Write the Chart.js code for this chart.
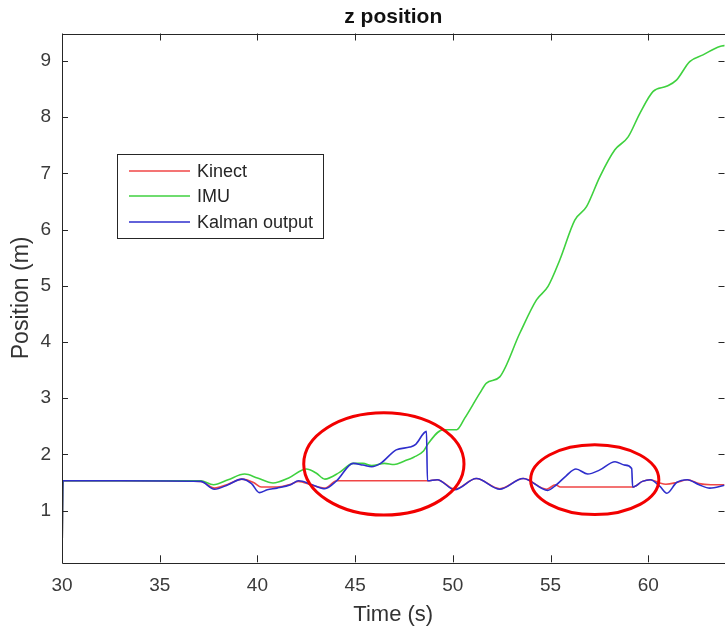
<!DOCTYPE html>
<html>
<head>
<meta charset="utf-8">
<title>z position</title>
<script src="https://cdn.jsdelivr.net/npm/chart.js@4.4.1/dist/chart.umd.min.js"></script>
<style>
  html, body { margin: 0; padding: 0; background: #fff; overflow: hidden; }
  canvas { display: block; }
</style>
</head>
<body>
<canvas id="myChart" width="725" height="632"></canvas>
<script>
// values (time in s, position in m)
var kinectT = [30, 30.05, 33, 37.1, 37.8, 38.5, 39.2, 39.8, 40.2, 41.0, 41.7, 42.1, 42.8, 43.45, 44.05, 48.7, 49.2, 50.1, 51.2, 52.4, 53.6, 54.8, 55.25, 55.5, 59.2, 59.7, 60.1, 60.6, 60.9, 61.45, 62.0, 62.6, 63.2, 63.9];
var kinectZ = [0.08, 1.53, 1.53, 1.52, 1.40, 1.47, 1.56, 1.50, 1.42, 1.42, 1.47, 1.52, 1.45, 1.40, 1.53, 1.53, 1.55, 1.38, 1.57, 1.39, 1.57, 1.38, 1.46, 1.42, 1.42, 1.52, 1.55, 1.49, 1.47, 1.50, 1.55, 1.48, 1.46, 1.46];

var imuT = [30, 30.05, 33, 37.1, 37.75, 38.5, 39.35, 40.0, 40.8, 41.6, 42.5, 43.0, 43.45, 44.2, 44.9, 45.4, 45.85, 46.5, 47.0, 47.5, 48.0, 48.5, 48.75, 49.5, 50.2, 50.6, 51.38, 51.72, 52.4, 53.43, 54.28, 54.87, 55.47, 56.24, 56.84, 57.52, 58.29, 58.97, 59.57, 60.25, 60.93, 61.44, 62.12, 62.8, 63.66, 64];
var imuZ = [0.08, 1.53, 1.53, 1.53, 1.46, 1.55, 1.65, 1.58, 1.49, 1.58, 1.74, 1.67, 1.56, 1.68, 1.84, 1.84, 1.80, 1.84, 1.82, 1.88, 1.95, 2.06, 2.20, 2.44, 2.44, 2.64, 3.09, 3.27, 3.38, 4.16, 4.75, 4.99, 5.46, 6.17, 6.41, 6.94, 7.42, 7.65, 8.07, 8.46, 8.55, 8.66, 8.99, 9.11, 9.26, 9.28];

var kalmanT = [30, 30.05, 33, 37.1, 37.8, 38.5, 39.2, 39.7, 40.1, 40.5, 41.0, 41.7, 42.1, 42.8, 43.45, 44.05, 44.9, 45.4, 45.85, 46.3, 47.1, 47.8, 48.1, 48.65, 48.7, 49.2, 50.1, 51.2, 52.4, 53.6, 54.85, 55.3, 55.8, 56.3, 56.9, 57.5, 58.3, 58.8, 59.15, 59.2, 59.7, 60.1, 60.6, 60.95, 61.45, 62.0, 62.6, 63.15, 63.9];
var kalmanZ = [0.08, 1.53, 1.53, 1.52, 1.38, 1.46, 1.56, 1.48, 1.32, 1.37, 1.40, 1.46, 1.53, 1.46, 1.39, 1.53, 1.84, 1.81, 1.78, 1.84, 2.08, 2.13, 2.18, 2.41, 1.53, 1.55, 1.37, 1.57, 1.38, 1.57, 1.36, 1.46, 1.62, 1.74, 1.65, 1.72, 1.87, 1.81, 1.75, 1.42, 1.52, 1.55, 1.43, 1.31, 1.50, 1.55, 1.46, 1.40, 1.45];

var xTicks = [30, 35, 40, 45, 50, 55, 60];
var yTicks = [1, 2, 3, 4, 5, 6, 7, 8, 9];
var xRange = [30, 63.9];
var yRange = [0.08, 9.49];

var seriesNames = ['Kinect', 'IMU', 'Kalman output'];
var seriesColors = ['#f04646', '#3fd13f', '#2e2ecc'];

// the two red circles: centre time, centre position, half width (s), half height (m)
var circles = [
    [46.47, 1.83, 4.1, 0.91],
    [57.26, 1.55, 3.28, 0.62]
];

function toPoints(ts, zs) {
    var pts = [];
    for (let i = 0; i < ts.length; i++) {
        pts.push({x: ts[i], y: zs[i]});
    }
    return pts;
}

function makeDataset(i, ts, zs, order) {
    return {
        label: seriesNames[i],
        data: toPoints(ts, zs),
        borderColor: seriesColors[i],
        backgroundColor: seriesColors[i],
        borderWidth: 1.6,
        pointRadius: 0,
        cubicInterpolationMode: 'monotone',
        fill: false,
        order: order
    };
}

const framePlugin = {
    id: 'frame',
    afterDatasetsDraw(chart) {
        const ctx = chart.ctx;
        const a = chart.chartArea;
        const xs = chart.scales.x;
        const ys = chart.scales.y;
        ctx.save();

        // red circles
        ctx.strokeStyle = '#f20000';
        ctx.lineWidth = 3;
        circles.forEach(c => {
            const cx = xs.getPixelForValue(c[0]);
            const cy = ys.getPixelForValue(c[1]);
            const rx = Math.abs(xs.getPixelForValue(c[0] + c[2]) - cx);
            const ry = Math.abs(ys.getPixelForValue(c[1] + c[3]) - cy);
            ctx.beginPath();
            ctx.ellipse(cx, cy, rx, ry, 0, 0, Math.PI * 2);
            ctx.stroke();
        });

        // box and inward ticks
        ctx.strokeStyle = '#262626';
        ctx.lineWidth = 1;
        ctx.beginPath();
        ctx.rect(Math.round(a.left) + 0.5, Math.round(a.top) + 0.5, Math.round(a.right - a.left), Math.round(a.bottom - a.top));
        xTicks.forEach(t => {
            const px = Math.round(xs.getPixelForValue(t)) + 0.5;
            ctx.moveTo(px, a.bottom); ctx.lineTo(px, a.bottom - 7);
            ctx.moveTo(px, a.top); ctx.lineTo(px, a.top + 7);
        });
        yTicks.forEach(t => {
            const py = Math.round(ys.getPixelForValue(t)) + 0.5;
            ctx.moveTo(a.left, py); ctx.lineTo(a.left + 6, py);
            ctx.moveTo(a.right, py); ctx.lineTo(a.right - 6, py);
        });
        ctx.stroke();

        // legend box
        const lx = 117, ly = 154, lw = 206, lh = 84;
        ctx.fillStyle = '#fff';
        ctx.fillRect(lx, ly, lw, lh);
        ctx.strokeStyle = '#262626';
        ctx.strokeRect(lx + 0.5, ly + 0.5, lw, lh);
        ctx.font = '18px "Liberation Sans", Arial, sans-serif';
        ctx.textBaseline = 'middle';
        ctx.textAlign = 'left';
        const rows = [171, 196, 222];
        for (let i = 0; i < seriesNames.length; i++) {
            ctx.strokeStyle = seriesColors[i];
            ctx.lineWidth = 1.6;
            ctx.beginPath();
            ctx.moveTo(129, rows[i]);
            ctx.lineTo(190, rows[i]);
            ctx.stroke();
            ctx.fillStyle = '#262626';
            ctx.fillText(seriesNames[i], 197, rows[i] + 1);
        }

        // title
        ctx.font = 'bold 21px "Liberation Sans", Arial, sans-serif';
        ctx.fillStyle = '#111';
        ctx.textAlign = 'center';
        ctx.fillText('z position', (a.left + a.right) / 2, 17);
        ctx.restore();
    }
};

const ctx = document.getElementById('myChart').getContext('2d');
const myChart = new Chart(ctx, {
    type: 'line',
    data: {
        datasets: [
            makeDataset(0, kinectT, kinectZ, 3),
            makeDataset(1, imuT, imuZ, 2),
            makeDataset(2, kalmanT, kalmanZ, 1)
        ]
    },
    options: {
        responsive: false,
        animation: false,
        layout: { padding: { top: 33.5, right: 0.5, left: 0, bottom: 0 } },
        plugins: {
            legend: { display: false },
            tooltip: { enabled: false }
        },
        scales: {
            x: {
                type: 'linear',
                min: xRange[0],
                max: xRange[1],
                grid: { display: false },
                border: { display: false },
                afterBuildTicks: s => { s.ticks = xTicks.map(v => ({value: v})); },
                afterFit: s => { s.height = 69.7; },
                ticks: {
                    color: '#3a3a3a',
                    padding: 4,
                    maxRotation: 0,
                    font: { family: '"Liberation Sans", Arial, sans-serif', size: 19 }
                },
                title: {
                    display: true,
                    text: 'Time (s)',
                    color: '#333',
                    padding: { top: 0, bottom: 4 },
                    font: { family: '"Liberation Sans", Arial, sans-serif', size: 22 }
                }
            },
            y: {
                min: yRange[0],
                max: yRange[1],
                grid: { display: false },
                border: { display: false },
                afterBuildTicks: s => { s.ticks = yTicks.map(v => ({value: v})); },
                afterFit: s => { s.width = 62; },
                ticks: {
                    color: '#3a3a3a',
                    padding: 3,
                    font: { family: '"Liberation Sans", Arial, sans-serif', size: 19 }
                },
                title: {
                    display: true,
                    text: 'Position (m)',
                    color: '#333',
                    padding: { top: 8, bottom: 0 },
                    font: { family: '"Liberation Sans", Arial, sans-serif', size: 23 }
                }
            }
        }
    },
    plugins: [framePlugin]
});
</script>
</body>
</html>
